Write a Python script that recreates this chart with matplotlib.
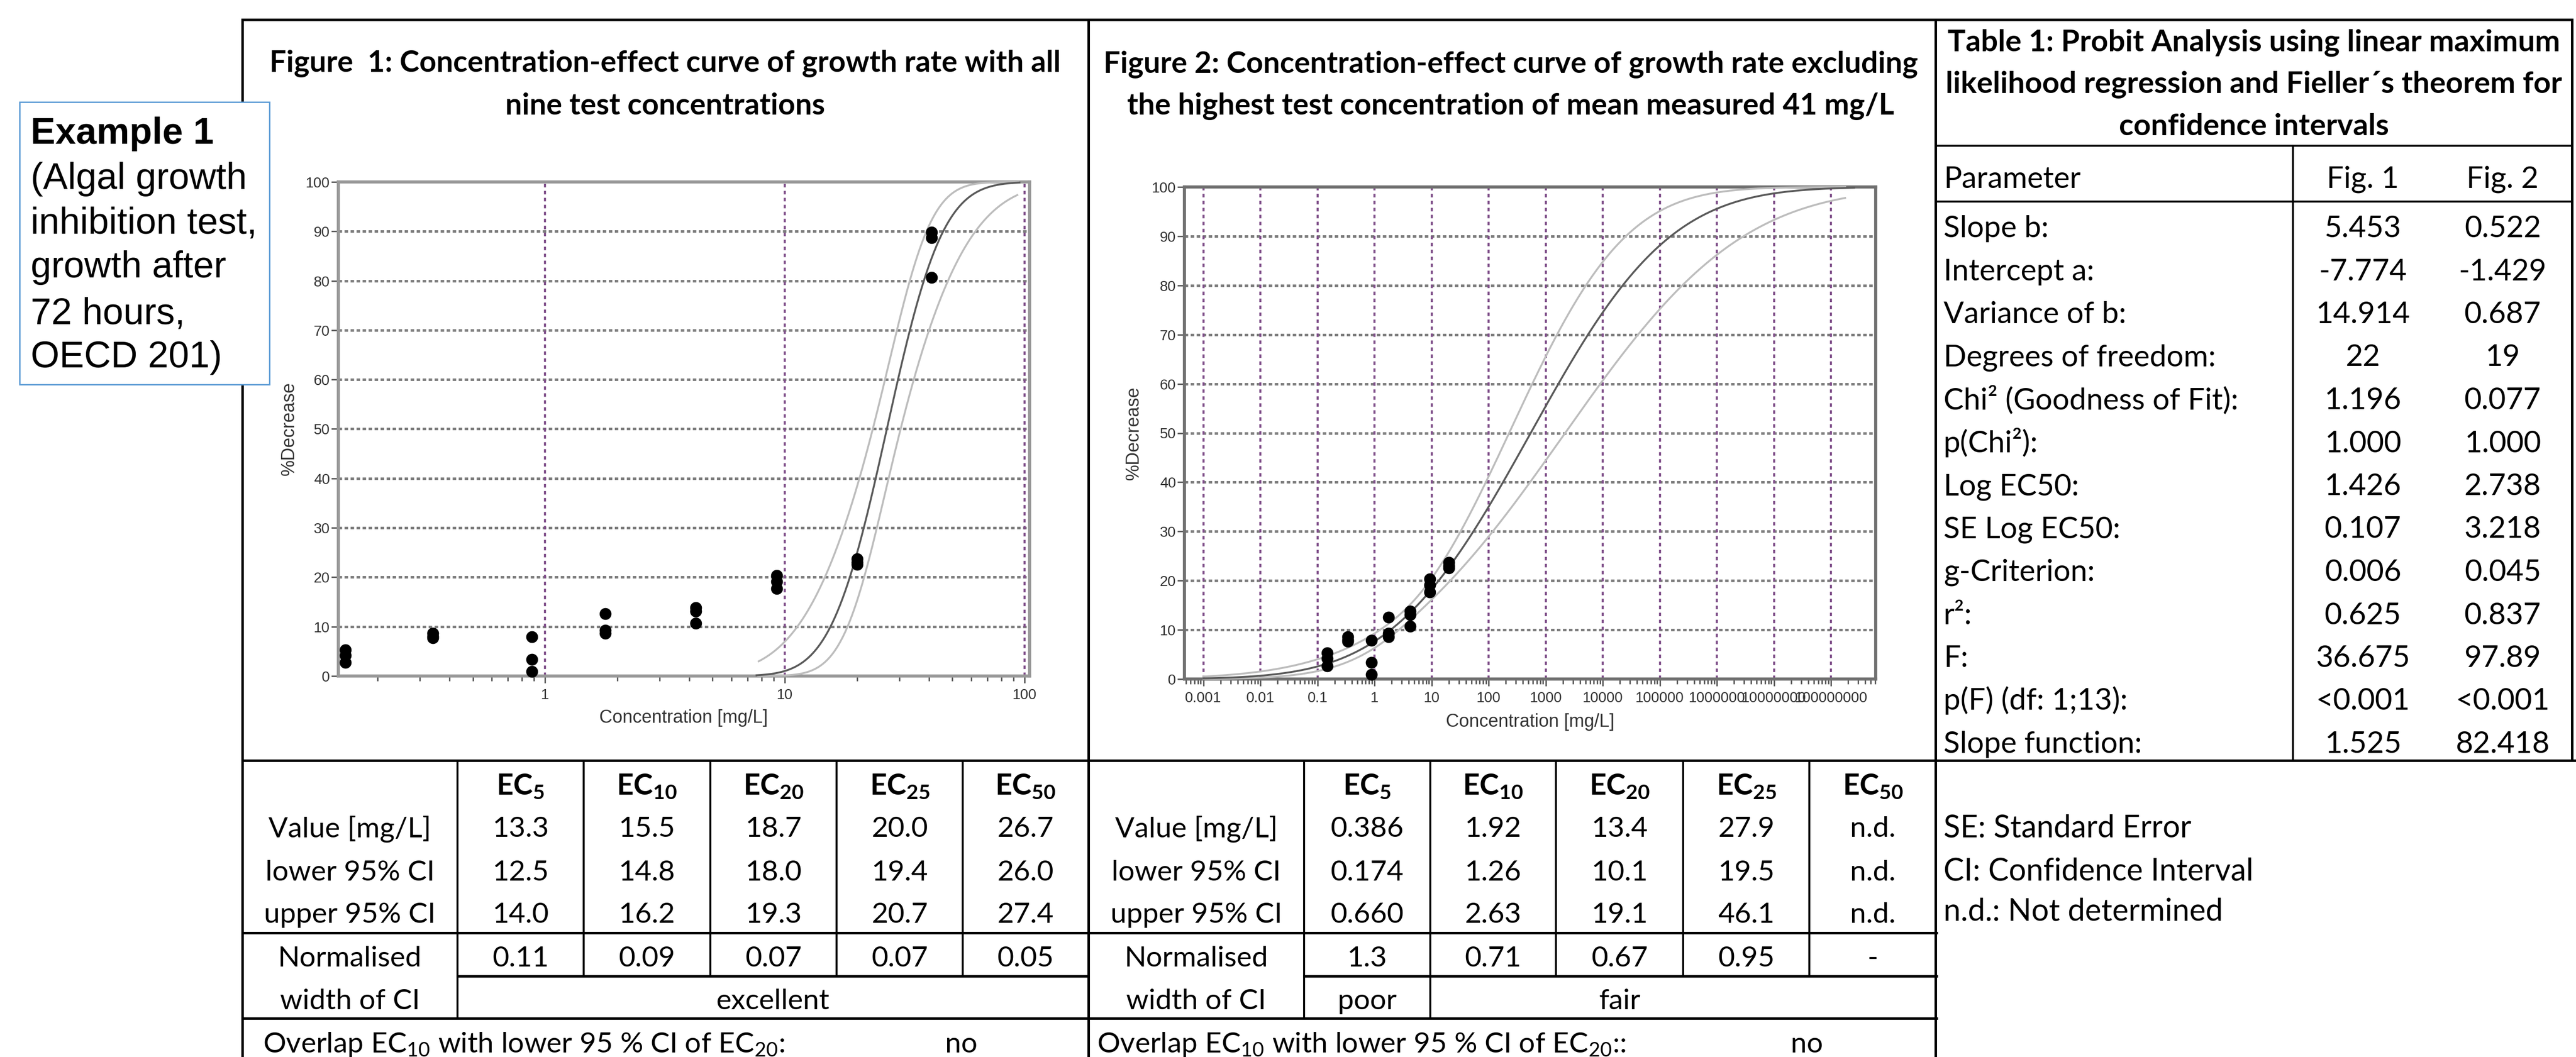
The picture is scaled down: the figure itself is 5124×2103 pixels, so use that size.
import math
import numpy as np
import matplotlib
matplotlib.use("Agg")
import matplotlib.pyplot as plt
from matplotlib.patches import Rectangle

# ------------------------------------------------------------------ data
conc = [0.147, 0.34, 0.88, 1.78, 4.25, 9.25, 20.0, 41.0]       # mg/L
rep1 = [5.3, 8.6, 7.9, 12.6, 13.8, 20.3, 23.7, 89.8]           # % decrease
rep2 = [4.2, 8.0, 3.4, 9.3, 13.1, 19.1, 23.0, 88.7]
rep3 = [2.7, 7.7, 0.9, 8.6, 10.7, 17.7, 22.6, 80.7]

# probit fits (slope b, intercept a)
fig1_slope, fig1_icpt = 5.453, -7.774
fig2_slope, fig2_icpt = 0.522, -1.429
# confidence band shape: xbar, stretch, K, A
fig1_band = (1.43, 1.14, 0.364, 0.0254)
fig2_band = (0.65, 1.054, 0.225, 0.40)
# log10 ranges over which the curves are drawn
fig1_main_rng, fig1_band_rng = (0.88, 1.98), (0.887, 1.975)
fig2_main_rng, fig2_band_rng = (-3.0, 8.41), (-3.0, 8.25)

y_ticks = [0, 10, 20, 30, 40, 50, 60, 70, 80, 90, 100]
fig1_xticks = [1, 10, 100]
fig1_xlabels = ["1", "10", "100"]
fig2_xticks = [10.0 ** k for k in range(-3, 9)]
fig2_xlabels = ["0.001", "0.01", "0.1", "1", "10", "100", "1000", "10000",
                "100000", "1000000", "10000000", "100000000"]

ec_subs = ["5", "10", "20", "25", "50"]
row_names = ["Value [mg/L]", "lower 95% CI", "upper 95% CI"]
f1_value = ["13.3", "15.5", "18.7", "20.0", "26.7"]
f1_lower = ["12.5", "14.8", "18.0", "19.4", "26.0"]
f1_upper = ["14.0", "16.2", "19.3", "20.7", "27.4"]
f1_norm = ["0.11", "0.09", "0.07", "0.07", "0.05"]
f2_value = ["0.386", "1.92", "13.4", "27.9", "n.d."]
f2_lower = ["0.174", "1.26", "10.1", "19.5", "n.d."]
f2_upper = ["0.660", "2.63", "19.1", "46.1", "n.d."]
f2_norm = ["1.3", "0.71", "0.67", "0.95", "-"]

t1_params = ["Slope b:", "Intercept a:", "Variance of b:", "Degrees of freedom:",
             "Chi² (Goodness of Fit):", "p(Chi²):", "Log EC50:", "SE Log EC50:",
             "g-Criterion:", "r²:", "F:", "p(F) (df: 1;13):", "Slope function:"]
t1_fig1 = ["5.453", "-7.774", "14.914", "22", "1.196", "1.000", "1.426", "0.107",
           "0.006", "0.625", "36.675", "<0.001", "1.525"]
t1_fig2 = ["0.522", "-1.429", "0.687", "19", "0.077", "1.000", "2.738", "3.218",
           "0.045", "0.837", "97.89", "<0.001", "82.418"]

# ------------------------------------------------------------------ style
plt.rcParams["font.family"] = ["Lato", "DejaVu Sans"]
plt.rcParams["mathtext.fontset"] = "custom"
plt.rcParams["mathtext.rm"] = "Lato"
plt.rcParams["mathtext.bf"] = "Lato:bold"
plt.rcParams["mathtext.it"] = "Lato:italic"
plt.rcParams["mathtext.sf"] = "Lato"
plt.rcParams["lines.scale_dashes"] = False

W, H = 5124, 2103
fig = plt.figure(figsize=(W / 100, H / 100), dpi=100)
bg = fig.add_axes([0, 0, 1, 1])
bg.set_xlim(0, W)
bg.set_ylim(H, 0)
bg.axis("off")
bg.set_zorder(0)


def fa(l, t, r, b):
    return [l / W, 1 - b / H, (r - l) / W, (b - t) / H]


def hl(y, x0, x1, lw=3.6):
    bg.plot([x0, x1], [y, y], color="k", lw=lw, solid_capstyle="projecting")


def vl(x, y0, y1, lw=3.6):
    bg.plot([x, x], [y0, y1], color="k", lw=lw, solid_capstyle="projecting")


def ncdf(z):
    return 0.5 * (1.0 + np.vectorize(math.erf)(np.asarray(z) / math.sqrt(2.0)))


def draw_curves(ax, slope, icpt, band, main_rng, band_rng):
    xbar, s, K, A = band
    m = np.linspace(-8, 14, 6000)
    y = 100 * ncdf(icpt + slope * m)
    d = m - xbar
    half = K * np.sqrt(A + d * d)
    Lb = xbar + d * s - half
    Rb = xbar + d * s + half
    for lx, rng, col in ((Lb, band_rng, "#bdbdbd"), (Rb, band_rng, "#bdbdbd"),
                         (m, main_rng, "#5a5a5a")):
        k = (lx >= rng[0]) & (lx <= rng[1])
        ax.plot(10 ** lx[k], y[k], color=col, lw=2.7, zorder=3, clip_on=False)


def style_plot(ax, xlim, xt, xl, frame_col):
    ax.set_xscale("log")
    ax.set_xlim(*xlim)
    ax.set_ylim(0, 100)
    ax.set_yticks(y_ticks)
    ax.set_yticklabels([str(v) for v in y_ticks])
    ax.set_xticks(xt)
    ax.set_xticklabels(xl)
    ax.xaxis.set_minor_locator(matplotlib.ticker.LogLocator(base=10, subs=range(2, 10), numticks=40))
    ax.xaxis.set_minor_formatter(matplotlib.ticker.NullFormatter())
    ax.tick_params(axis="both", which="major", direction="out", length=10, width=2,
                   color="#555555", labelsize=21, labelcolor="#333333")
    ax.tick_params(axis="x", which="major", pad=7)
    ax.tick_params(axis="y", which="major", pad=2)
    ax.tick_params(axis="x", which="minor", direction="out", length=7, width=2, color="#555555")
    for lab in ax.get_xticklabels() + ax.get_yticklabels():
        lab.set_family("Liberation Sans")
    for sp in ax.spines.values():
        sp.set_color(frame_col)
        sp.set_linewidth(4.5)
    for v in y_ticks[1:-1]:
        ax.axhline(v, color="#7c7c7c", lw=3.6, dashes=(5, 3.6), zorder=1)
    for v in xt:
        ax.axvline(v, color="#80508a", lw=3.0, dashes=(5, 5), zorder=1)
    ax.set_facecolor("white")


# ------------------------------------------------------------------ plots
ax1 = fig.add_axes(fa(673, 362, 2048, 1345))
ax1.set_zorder(2)
style_plot(ax1, (10 ** -0.862, 10 ** 2.021), fig1_xticks, fig1_xlabels, "#999999")
draw_curves(ax1, fig1_slope, fig1_icpt, fig1_band, fig1_main_rng, fig1_band_rng)
for r in (rep1, rep2, rep3):
    ax1.plot(conc, r, "o", color="black", ms=16, zorder=5, clip_on=False)

ax2 = fig.add_axes(fa(2356, 372, 3731, 1351))
ax2.set_zorder(2)
style_plot(ax2, (10 ** -3.331, 10 ** 8.784), fig2_xticks, fig2_xlabels, "#707070")
draw_curves(ax2, fig2_slope, fig2_icpt, fig2_band, fig2_main_rng, fig2_band_rng)
for r in (rep1, rep2, rep3):
    ax2.plot(conc[:-1], r[:-1], "o", color="black", ms=16, zorder=5, clip_on=False)

lab_kw = dict(fontsize=26, color="#333333", family="Liberation Sans", ha="center", va="center")
bg.text(575, 853, "%Decrease", rotation=90, **lab_kw)
bg.text(1360, 1429, "Concentration [mg/L]", **lab_kw)
bg.text(2255, 862, "%Decrease", rotation=90, **lab_kw)
bg.text(3044, 1436, "Concentration [mg/L]", **lab_kw)

# ------------------------------------------------------------------ grid lines
X0, XA, XB, XR = 482, 2165, 3850, 5116
YT, YH, YV, YN, YW = 39, 1513, 1856, 1942, 2026
c1 = [482, 910, 1161, 1413, 1664, 1915, 2165]
c2 = [2165, 2594, 2845, 3095, 3348, 3599, 3852]

hl(YT, X0, XR)
vl(X0, YT, H + 5)
vl(XA, YT, H + 5)
vl(XB, YT, H + 5)
vl(XR, YT, YH)
hl(YH, X0, W + 5)
for cols in (c1, c2):
    hl(YV, cols[0], cols[-1])
    hl(YN, cols[1], cols[-1])
    hl(YW, cols[0], cols[-1])
    vl(cols[1], YH, YW, 2.8)
    for x in cols[2:-1]:
        vl(x, YH, YN, 2.8)
vl(c2[2], YN, YW, 2.8)
# table 1 lines
hl(290, XB, XR, 2.8)
hl(401, XB, XR, 2.8)
vl(4561, 290, YH, 2.8)

# ------------------------------------------------------------------ titles
tkw = dict(fontsize=42.5, weight="bold", ha="center", va="baseline")
bg.text(1323, 143, "Figure  1: Concentration-effect curve of growth rate with all", **tkw)
bg.text(1323, 228, "nine test concentrations", **tkw)
bg.text(3005, 145, "Figure 2: Concentration-effect curve of growth rate excluding", **tkw)
bg.text(3005, 228, "the highest test concentration of mean measured 41 mg/L", **tkw)

t1kw = dict(fontsize=43, weight="bold", ha="center", va="baseline")
bg.text(4483, 102, "Table 1: Probit Analysis using linear maximum", **t1kw)
bg.text(4483, 185, "likelihood regression and Fieller´s theorem for", **t1kw)
bg.text(4483, 269, "confidence intervals", **t1kw)

# ------------------------------------------------------------------ table 1 body
bkw = dict(fontsize=43, va="baseline")
bg.text(3866, 374, "Parameter", ha="left", **bkw)
bg.text(4700, 374, "Fig. 1", ha="center", **bkw)
bg.text(4978, 374, "Fig. 2", ha="center", **bkw)
for i, (p, a, b) in enumerate(zip(t1_params, t1_fig1, t1_fig2)):
    yb = 472 + i * 85.5
    bg.text(3866, yb, p, ha="left", **bkw)
    bg.text(4700, yb, a, ha="center", **bkw)
    bg.text(4978, yb, b, ha="center", **bkw)

# ------------------------------------------------------------------ EC tables
FS = 41
ekw = dict(fontsize=FS, va="baseline", ha="center")
row_base = [1665, 1752, 1836]


def ec_table(cols, vals, norm):
    lc = (cols[0] + cols[1]) / 2
    for j, sub in enumerate(ec_subs):
        cx = (cols[j + 1] + cols[j + 2]) / 2
        bg.text(cx, 1581, r"$\mathbf{EC}_{\mathbf{%s}}$" % sub, fontsize=FS + 1,
                ha="center", va="baseline")
        for k in range(3):
            bg.text(cx, row_base[k], vals[k][j], **ekw)
        bg.text(cx, 1923, norm[j], **ekw)
    for k in range(3):
        bg.text(lc, row_base[k], row_names[k], **ekw)
    bg.text(lc, 1923, "Normalised", **ekw)
    bg.text(lc, 2008, "width of CI", **ekw)


ec_table(c1, [f1_value, f1_lower, f1_upper], f1_norm)
ec_table(c2, [f2_value, f2_lower, f2_upper], f2_norm)
bg.text((c1[1] + c1[-1]) / 2, 2008, "excellent", **ekw)
bg.text((c2[1] + c2[2]) / 2, 2008, "poor", **ekw)
bg.text((c2[2] + c2[5]) / 2, 2008, "fair", **ekw)
bg.text(523, 2094, r"Overlap EC$_{10}$ with lower 95 % CI of EC$_{20}$:",
        fontsize=FS, ha="left", va="baseline")
bg.text(1912, 2094, "no", **ekw)
bg.text(2182, 2094, r"Overlap EC$_{10}$ with lower 95 % CI of EC$_{20}$::",
        fontsize=FS, ha="left", va="baseline")
bg.text(3594, 2094, "no", **ekw)

# notes
nkw = dict(fontsize=44, ha="left", va="baseline")
bg.text(3866, 1666, "SE: Standard Error", **nkw)
bg.text(3866, 1752, "CI: Confidence Interval", **nkw)
bg.text(3866, 1831, "n.d.: Not determined", **nkw)

# ------------------------------------------------------------------ example box
bg.add_patch(Rectangle((39, 203), 497, 562, facecolor="white", edgecolor="#5b9bd5",
                       lw=2, zorder=10))
xkw = dict(fontsize=53, family="Liberation Sans", ha="left", va="baseline", zorder=11)
bg.text(61, 286, "Example 1", weight="bold", **xkw)
for yb, line in zip([376, 464, 552, 644, 731],
                    ["(Algal growth", "inhibition test,", "growth after",
                     "72 hours,", "OECD 201)"]):
    bg.text(61, yb, line, **xkw)

fig.savefig("out.png", dpi=100, facecolor="white")
